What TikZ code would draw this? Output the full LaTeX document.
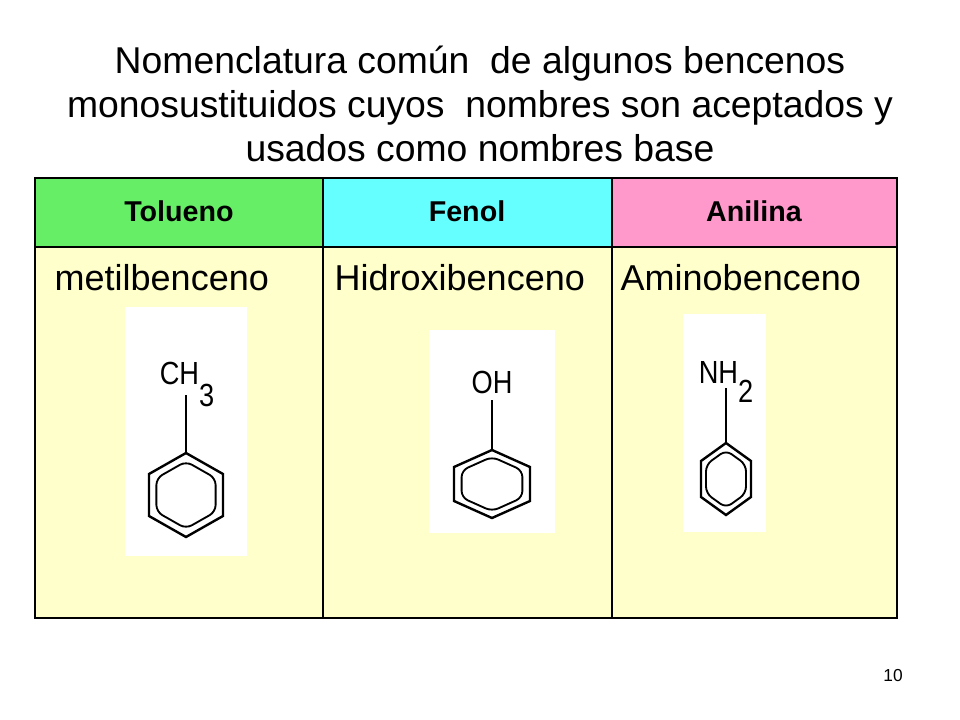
\documentclass[tikz,border=0pt]{standalone}
\usepackage{fontspec}
\setmainfont{Liberation Sans}
\begin{document}
\begin{tikzpicture}[x=0.75pt,y=-0.75pt,
  hdr/.style={font=\bfseries\fontsize{21.5}{24}\selectfont},
  body/.style={font=\fontsize{27}{30}\selectfont},
  chem/.style={font=\fontsize{24}{26}\selectfont, inner sep=0pt, xscale=0.85},
  bond/.style={line width=1.8pt},
  grid/.style={line width=1.4pt}]
\useasboundingbox (0,0) rectangle (960,720);
\node[font=\fontsize{28}{33}\selectfont, align=center] (title) at (480,104)
 {Nomenclatura común\ \ de algunos bencenos\\monosustituidos cuyos\ \ nombres son aceptados y\\usados como nombres base};
\definecolor{hg}{HTML}{66EE66}
\definecolor{hc}{HTML}{66FFFF}
\definecolor{hp}{HTML}{FF99CC}
\definecolor{by}{HTML}{FFFFCC}
\fill[hg] (35,178) rectangle (323,247);
\fill[hc] (323,178) rectangle (612,247);
\fill[hp] (612,178) rectangle (897,247);
\fill[by] (35,247) rectangle (897,618);
\draw[grid] (35,178) rectangle (897,618);
\draw[grid] (35,247) -- (897,247);
\draw[grid] (323,178) -- (323,618);
\draw[grid] (612,178) -- (612,618);
\node[hdr] (h1) at (179,211) {Tolueno};
\node[hdr] (h2) at (467,211) {Fenol};
\node[hdr] (h3) at (754,211) {Anilina};
\node[body,anchor=west] (b1) at (50,278) {metilbenceno};
\node[body,anchor=west] (b2) at (330,278) {Hidroxibenceno};
\node[body,anchor=west] (b3) at (616,278) {Aminobenceno};
\fill[white] (125,307) rectangle (247,556);
\fill[white] (429,330) rectangle (555,533);
\fill[white] (683,314) rectangle (766,532);
\foreach \cx/\cy/\rx/\ry/\bt in {186/495/37/42/395, 492/484/38/34/400, 726/479/25/36/388}{
  \draw[bond] (\cx,\cy-\ry) -- (\cx,\bt);
  \draw[bond] (\cx,\cy-\ry) -- (\cx+\rx,\cy-\ry/2) -- (\cx+\rx,\cy+\ry/2) -- (\cx,\cy+\ry) -- (\cx-\rx,\cy+\ry/2) -- (\cx-\rx,\cy-\ry/2) -- cycle;
  \draw[line width=1.4pt, rounded corners=5pt] (\cx,\cy-0.8*\ry) -- (\cx+0.8*\rx,\cy-0.4*\ry) -- (\cx+0.8*\rx,\cy+0.4*\ry) -- (\cx,\cy+0.8*\ry) -- (\cx-0.8*\rx,\cy+0.4*\ry) -- (\cx-0.8*\rx,\cy-0.4*\ry) -- cycle;
}
\node[chem] (m1) at (187,384) {CH\raisebox{-1.3ex}{3}};
\node[chem] (m2) at (492,382) {OH};
\node[chem] (m3) at (726,382) {NH\raisebox{-1.1ex}{2}};
\node[font=\fontsize{13}{15}\selectfont] (pg) at (893,676) {10};
\end{tikzpicture}
\end{document}
